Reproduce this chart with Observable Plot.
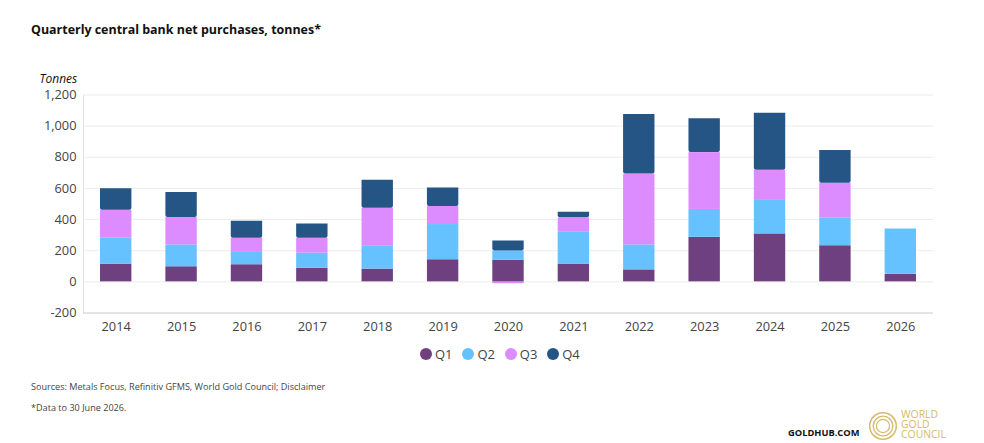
<!DOCTYPE html>
<html><head><meta charset="utf-8">
<script src="https://cdn.jsdelivr.net/npm/d3@7"></script>
<script src="https://cdn.jsdelivr.net/npm/@observablehq/plot@0.6"></script>
<style>
html,body{margin:0;padding:0;background:#fff;width:984px;height:443px;overflow:hidden;font-family:"Open Sans",sans-serif;color:#444}
#wrap{position:relative;width:984px;height:443px}
#title{position:absolute;left:31px;top:21px;font-size:12.45px;font-weight:700;color:#111;line-height:18px}
#chart{position:absolute;left:0;top:62px}
#legend{position:absolute;left:420px;top:345px;height:18px;display:flex;align-items:center;font-size:13px;color:#444}
#legend .i{display:flex;align-items:center;width:42.4px}
#legend .d{width:12px;height:12px;border-radius:50%;margin-right:3px}
.note{position:absolute;left:31px;font-size:9.1px;color:#444;line-height:14px}
#hub{position:absolute;left:788px;top:426px;font-size:9.3px;font-weight:700;color:#111;line-height:14px}
#logo{position:absolute;left:866px;top:408px}
</style></head><body>
<div id="wrap">
<div id="title">Quarterly central bank net purchases, tonnes*</div>
<div id="chart"></div>
<div id="legend"></div>
<div class="note" style="top:380px">Sources: Metals Focus, Refinitiv GFMS, World Gold Council; Disclaimer</div>
<div class="note" style="top:401px">*Data to 30 June 2026.</div>
<div id="hub">GOLDHUB.COM</div>
<svg id="logo" width="100" height="34" viewBox="0 0 100 34">
  <g fill="none" stroke="#d6b96a">
    <circle cx="17" cy="18" r="13.3" stroke-width="1.5"/>
    <circle cx="17" cy="18" r="9.8" stroke-width="1.3"/>
    <circle cx="17" cy="18" r="6.6" stroke-width="1.2"/>
  </g>
  <g fill="#d6b96a" font-family="Open Sans" font-size="10.4px">
    <text x="35" y="10">WORLD</text><text x="35" y="20">GOLD</text><text x="35" y="30">COUNCIL</text>
  </g>
</svg>
</div>
<script>
const years = [2014,2015,2016,2017,2018,2019,2020,2021,2022,2023,2024,2025,2026];
const quarters = ["Q1","Q2","Q3","Q4"];
const colors = ["#6f4080","#66c2ff","#dd8cff","#245585"];
const q1 = [114,97,110,88,82,142,138,112,77,286,308,232,49];
const q2 = [168,140,79,97,150,226,60,206,160,179,215,179,291];
const q3 = [178,176,91,95,241,116,-12,93,455,365,193,223,null];
const q4 = [138,161,109,92,179,118,64,36,383,217,366,209,null];
const yTicks = [-200,0,200,400,600,800,1000,1200];

const series = [q1,q2,q3,q4];
const inner = [], tops = [];
years.forEach((yr,i)=>{
  let up = 0, down = 0;
  const segs = [];
  quarters.forEach((q,qi)=>{
    const v = series[qi][i];
    if (v == null) return;
    if (v >= 0) { segs.push({year:yr,quarter:q,y1:up,y2:up+v}); up += v; }
    else { inner.push({year:yr,quarter:q,y1:down+v,y2:down}); down += v; }
  });
  tops.push(segs.pop());
  inner.push(...segs);
});

const plot = Plot.plot({
  width:984, height:280,
  marginLeft:83, marginRight:51, marginTop:32.5, marginBottom:29.5,
  style:{fontFamily:"Open Sans",fontSize:"13px",color:"#444",background:"transparent"},
  x:{domain:years,paddingInner:0.52,paddingOuter:0.26,round:false,label:null,tickSize:0},
  y:{domain:[-200,1200],label:null},
  color:{domain:quarters,range:colors},
  marks:[
    Plot.gridY(yTicks.filter(d=>d>-200),{stroke:"#ececf0",strokeOpacity:1}),
    Plot.frame({anchor:"left",stroke:"#dfdfe5"}),
    Plot.ruleY([-200],{stroke:"#c9c9d2"}),
    Plot.axisY({ticks:yTicks,tickSize:0,tickPadding:7,tickFormat:d=>d3.format(",")(d).replace("−","-"),fill:"#444",fontSize:12.8,label:null}),
    Plot.axisX({tickSize:0,tickPadding:9,tickFormat:d=>String(d),fill:"#444",fontSize:12.8,label:null}),
    Plot.barY(inner,{x:"year",y1:"y1",y2:"y2",fill:"quarter"}),
    Plot.barY(tops,{x:"year",y1:"y1",y2:"y2",fill:"quarter",ry2:2}),
    Plot.text(["Tonnes"],{frameAnchor:"top-left",dx:-44,dy:-21,textAnchor:"start",fontStyle:"italic",fill:"#111",fontSize:12})
  ]
});
document.getElementById("chart").append(plot);
const legend = document.getElementById("legend");
quarters.forEach((q,i)=>{
  const el=document.createElement("div");el.className="i";
  const d=document.createElement("div");d.className="d";d.style.background=colors[i];
  const t=document.createElement("span");t.textContent=q;
  el.append(d,t);legend.append(el);
});
</script>
</body></html>
